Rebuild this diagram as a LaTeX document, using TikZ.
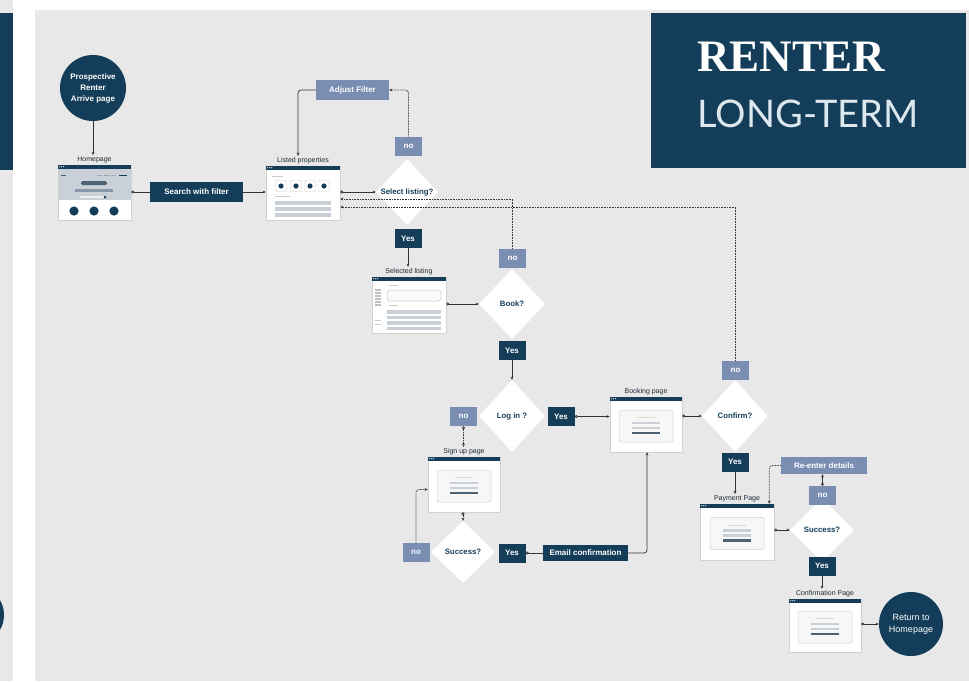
\documentclass[tikz,border=0pt]{standalone}
\usepackage{fontspec}
\setmainfont{Liberation Sans}
\newfontfamily\titleserif{Liberation Serif}
\newfontfamily\titlesans{Lato}
\usetikzlibrary{shapes.geometric,arrows.meta}
\definecolor{navy}{HTML}{143D59}
\definecolor{slate}{HTML}{7A8DB3}
\definecolor{panel}{HTML}{E8E8E8}
\definecolor{ink}{HTML}{333333}
\definecolor{lbl}{HTML}{1E2B38}
\definecolor{bar}{HTML}{C9D0D8}
\definecolor{bardark}{HTML}{4E6275}
\definecolor{midbar}{HTML}{8898AA}
\definecolor{titlelight}{HTML}{DDE7EE}
\tikzset{
  base/.style={inner sep=0pt, font=\fontsize{8}{9}\selectfont\bfseries},
  navybox/.style={base, rectangle, fill=navy, text=white},
  slatebox/.style={base, rectangle, fill=slate, text=white},
  ynode/.style={navybox, minimum width=27pt, minimum height=19pt},
  nnode/.style={slatebox, minimum width=27pt, minimum height=19pt},
  dia/.style={diamond, fill=white, inner sep=0pt, draw=none},
  dtext/.style={text=navy, inner sep=0pt, font=\fontsize{7.8}{9}\selectfont\bfseries},
  winlbl/.style={font=\fontsize{7}{8}\selectfont, text=lbl, anchor=south, inner sep=1pt},
  circ/.style={circle, fill=navy, text=white, align=center, inner sep=0pt},
  win/.style={rectangle, draw=gray!35, fill=white, line width=0.5pt, inner sep=0pt},
  conn/.style={draw=ink, line width=0.7pt, -{Stealth[length=3.2pt,width=2.8pt]}},
  oconn/.style={draw=ink, line width=0.7pt, {Circle[open,length=3pt,width=3pt,fill=white]}-{Stealth[length=3.2pt,width=2.8pt]}},
  ocirc/.style={draw=ink, line width=0.7pt, {Circle[open,length=3pt,width=3pt,fill=white]}-},
  dconn/.style={conn, dash pattern=on 0.8pt off 0.8pt, line width=0.75pt},
  doconn/.style={oconn, dash pattern=on 0.8pt off 0.8pt, line width=0.75pt},
}
\newcommand\winhead[1]{%
  \fill[navy] (#1.north west) rectangle ([yshift=-4pt]#1.north east);
  \foreach \k in {2,4,6} \fill[white] ([xshift=\k pt, yshift=-2pt]#1.north west) circle (0.6pt);
}
\newcommand\formbody[1]{%
  \draw[gray!35, fill=gray!6, rounded corners=1.5pt, line width=0.5pt] ([xshift=-27pt,yshift=14.5pt]#1.center) rectangle ([xshift=27pt,yshift=-17.5pt]#1.center);
  \fill[gray!30] ([xshift=-9pt,yshift=7.5pt]#1.center) rectangle ([xshift=9pt,yshift=6.6pt]#1.center);
  \fill[bar] ([xshift=-14pt,yshift=2.8pt]#1.center) rectangle ([xshift=14pt,yshift=0.2pt]#1.center);
  \fill[bar] ([xshift=-14pt,yshift=-2.2pt]#1.center) rectangle ([xshift=14pt,yshift=-4.8pt]#1.center);
  \fill[bardark] ([xshift=-14pt,yshift=-7.2pt]#1.center) rectangle ([xshift=14pt,yshift=-9.8pt]#1.center);
}
\begin{document}
\begin{tikzpicture}[x=1pt,y=-1pt]
\useasboundingbox (0,0) rectangle (969,681);
% background
\fill[white] (0,0) rectangle (969,681);
\fill[panel] (35,10) rectangle (969,681);
\fill[panel] (0,0) rectangle (13,681);
\fill[navy] (0,13) rectangle (13,170);
\begin{scope}
  \clip (0,0) rectangle (13,681);
  \fill[navy] (-26,615) circle (30);
\end{scope}
% title
\node[fill=navy, minimum width=315pt, minimum height=155pt, inner sep=0pt, anchor=north west] (title) at (651,13) {};
\node[text=white, inner sep=0pt, font=\titleserif\bfseries\fontsize{45}{45}\selectfont] (t1) at (791,57) {RENTER};
\node[text=titlelight, inner sep=0pt, font=\titlesans\fontsize{38}{38}\selectfont] (t2) at (808,114) {LONG-TERM};

% ===== windows =====
\node[win, minimum width=73pt, minimum height=55pt] (home) at (94.5,192.5) {};
\node[win, minimum width=74pt, minimum height=54pt] (listed) at (303,193) {};
\node[win, minimum width=74pt, minimum height=56pt] (selected) at (409,305) {};
\node[win, minimum width=72pt, minimum height=55pt] (booking) at (646,424.5) {};
\node[win, minimum width=72pt, minimum height=55pt] (signup) at (464,484.5) {};
\node[win, minimum width=74pt, minimum height=56pt] (pay) at (737,532) {};
\node[win, minimum width=72pt, minimum height=53pt] (conf) at (825,625.5) {};

% homepage content
\fill[bar] (58.3,169) rectangle (130.7,200);
\fill[bardark] (61,174.5) rectangle (66,176);
\foreach \x in {97,104,111} \fill[gray!70] (\x,174.5) rectangle (\x+5,176);
\fill[navy] (119,174.5) rectangle (127,176);
\fill[bardark, rounded corners=1.5pt] (81,181) rectangle (107,185);
\fill[midbar] (75,188.5) rectangle (113,191.5);
\fill[gray!12] (80,196) rectangle (106,198);
\fill[navy] (105,197) circle (1.5);
\foreach \x in {74,94,114} \fill[navy] (\x,211) circle (4.6);
\winhead{home}

% listed properties content
\fill[gray!40] (272,176) rectangle (283,177);
\foreach \x in {281,296,310,324} {
  \draw[gray!40, fill=white, rounded corners=1pt, line width=0.4pt] (\x-5.5,180.5) rectangle (\x+5.5,191.5);
  \fill[navy] (\x,186) circle (2.6);
}
\fill[gray!40] (275,196) rectangle (290,197);
\foreach \y in {201,207,213} \fill[bar] (275,\y) rectangle (331,\y+3.5);
\winhead{listed}

% selected listing content
\foreach \y in {289,292,295,298,301,304} \fill[gray!50] (375,\y) rectangle (381,\y+1.5);
\foreach \y in {320,324} \fill[gray!40] (375,\y) rectangle (381,\y+1.2);
\fill[gray!40] (389,285) rectangle (398,286);
\draw[gray!45, fill=gray!5, rounded corners=3pt, line width=0.5pt] (387,290) rectangle (441,301);
\fill[gray!40] (389,305) rectangle (398,306);
\foreach \y in {310,315.5,321,326.5} \fill[bar] (387,\y) rectangle (441,\y+3.5);
\winhead{selected}

% form windows
\foreach \w in {booking,signup,pay,conf} {\formbody{\w}\winhead{\w}}

% window labels
\node[winlbl] (homelbl) at ([yshift=1pt]home.north) {Homepage};
\node[winlbl] (listedlbl) at ([yshift=1pt]listed.north) {Listed properties};
\node[winlbl] (sellbl) at ([yshift=1pt]selected.north) {Selected listing};
\node[winlbl] (bookinglbl) at ([yshift=1pt]booking.north) {Booking page};
\node[winlbl] (signlbl) at ([yshift=1pt]signup.north) {Sign up page};
\node[winlbl] (paylbl) at ([yshift=1pt]pay.north) {Payment Page};
\node[winlbl] (conflbl) at ([yshift=1pt]conf.north) {Confirmation Page};

% ===== circles =====
\node[circ, minimum size=66pt, font=\fontsize{8}{11}\selectfont\bfseries] (prosp) at (93,88) {Prospective\\Renter\\Arrive page};
\node[circ, minimum size=64pt, font=\fontsize{9}{12}\selectfont] (ret) at (911,624) {Return to\\Homepage};

% ===== boxes =====
\node[navybox, minimum width=93pt, minimum height=20pt] (search) at (196.5,192) {Search with filter};
\node[slatebox, minimum width=73pt, minimum height=20pt] (adjust) at (352.5,90) {Adjust Filter};
\node[slatebox, minimum width=86pt, minimum height=17pt] (reenter) at (824,465.5) {Re-enter details};
\node[navybox, minimum width=85pt, minimum height=16pt] (email) at (585.5,553) {Email confirmation};

% ===== diamonds =====
\node[dia, minimum width=62pt, minimum height=66pt, label={[dtext]center:Select listing?}] (sel) at (407,192) {};
\node[dia, minimum width=66pt, minimum height=70pt, label={[dtext]center:Book?}] (book) at (512,304) {};
\node[dia, minimum width=66pt, minimum height=72pt, label={[dtext]center:Log in ?}] (login) at (512,416) {};
\node[dia, minimum width=66pt, minimum height=72pt, label={[dtext]center:Confirm?}] (confirm) at (735,416) {};
\node[dia, minimum width=64pt, minimum height=64pt, label={[dtext]center:Success?}] (succ2) at (822,530) {};
\node[dia, minimum width=64pt, minimum height=62pt, label={[dtext]center:Success?}] (succ1) at (463,552) {};

% ===== yes / no =====
\node[nnode] (no1) at (408.5,146) {no};
\node[ynode] (yes1) at (408,238.5) {Yes};
\node[nnode] (no2) at (512.5,258.5) {no};
\node[ynode] (yes2) at (512,350.5) {Yes};
\node[nnode] (no3) at (463.5,416.5) {no};
\node[ynode] (yes3) at (561,416.5) {Yes};
\node[nnode] (no4) at (735.5,370.5) {no};
\node[ynode] (yes4) at (735,462) {Yes};
\node[nnode] (no5) at (822.5,495.5) {no};
\node[ynode] (yes5) at (822,566) {Yes};
\node[nnode] (no6) at (416,552.5) {no};
\node[ynode] (yes6) at (512,553) {Yes};

% ===== connectors =====
\draw[conn] (prosp.south) -- (prosp.south |- homelbl.north);
\draw[ocirc] (home.east |- search.west) -- (search.west);
\draw[conn] (search.east) -- (listed.west |- search.east);
\draw[oconn] (listed.east |- sel.west) -- (sel.west);
\draw[dconn, rounded corners=3pt] (no1.north) |- (adjust.east);
\draw[conn, rounded corners=3pt] (adjust.west) -| ([xshift=-5pt]listedlbl.north);
\draw[conn] (yes1.south) -- (yes1.south |- sellbl.north);
\draw[oconn] (selected.east |- book.west) -- (book.west);
\draw[dconn] (no2.north) |- ([yshift=-6pt]listed.east);
\draw[conn] (yes2.south) -- (login.north);
\draw[doconn] (no3.south) -- (no3.south |- signlbl.north);
\draw[oconn] (yes3.east) -- (booking.west |- yes3.east);
\draw[oconn] (booking.east |- confirm.west) -- (confirm.west);
\draw[dconn] (no4.north) |- ([yshift=-14pt]listed.east);
\draw[conn] (yes4.south) -- (yes4.south |- paylbl.north);
\draw[oconn] (pay.east |- succ2.west) -- (succ2.west);
\draw[oconn] (no5.north) -- (no5.north |- reenter.south);
\draw[dconn, rounded corners=3pt] (reenter.west) -| ([xshift=-5pt]pay.north east);
\draw[conn] (yes5.south) -- (yes5.south |- conflbl.north);
\draw[oconn] (conf.east |- ret.west) -- (ret.west);
\draw[doconn] (succ1.north |- signup.south) -- (succ1.north);
\draw[dconn, rounded corners=3pt] (no6.north) |- ([yshift=-5pt]signup.west);
\draw[ocirc] (yes6.east) -- (email.west);
\draw[conn, rounded corners=3pt] (email.east) -| ([xshift=1pt]booking.south);
\end{tikzpicture}
\end{document}
